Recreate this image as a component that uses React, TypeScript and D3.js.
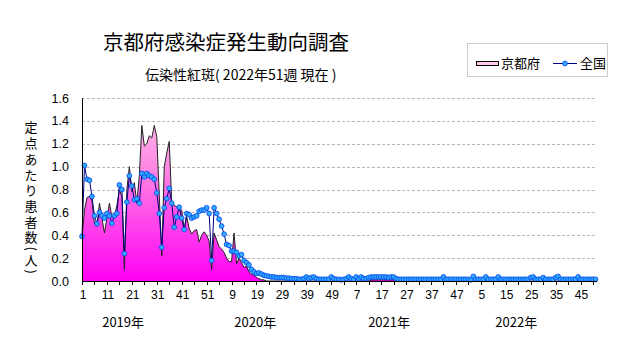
import React from 'react';
import * as d3 from 'd3';

// ---- Data (weekly per-sentinel counts) ----
const kyoto2019 = [
  0.38, 0.62, 0.73, 0.74, 0.70, 0.50, 0.48, 0.68, 0.55, 0.42,
  0.55, 0.68, 0.56, 0.56, 0.66, 0.80, 0.74, 0.10, 0.80, 1.00,
  0.78, 0.86, 0.68, 0.92, 1.36, 1.18, 1.20, 1.27, 1.25, 1.36,
  1.26, 0.75, 0.22, 1.00, 1.12, 1.22, 0.68, 0.66, 0.65, 0.62,
  0.62, 0.45, 0.56, 0.46, 0.41, 0.44, 0.45, 0.34, 0.40, 0.43,
  0.40, 0.35,
];
const kyoto2020 = [
  0.10, 0.42, 0.36, 0.30, 0.28, 0.25, 0.20, 0.17, 0.17, 0.42,
  0.15, 0.20, 0.16, 0.12, 0.13, 0.08, 0.06, 0.05, 0.03, 0.02,
  0.01, 0.01, 0, 0, 0, 0, 0, 0, 0, 0,
  0, 0, 0, 0.02, 0, 0, 0, 0, 0, 0,
  0, 0, 0, 0, 0, 0, 0, 0, 0, 0,
  0, 0,
];
const kyoto2021 = [
  0, 0, 0, 0, 0, 0, 0, 0, 0, 0,
  0, 0, 0.01, 0.01, 0.01, 0.01, 0.01, 0.01, 0.01, 0.01,
  0.01, 0.01, 0, 0, 0, 0, 0, 0, 0, 0,
  0, 0, 0, 0, 0, 0, 0, 0, 0, 0,
  0, 0, 0, 0, 0, 0, 0, 0, 0, 0,
  0, 0,
];
const kyoto2022 = [
  0, 0, 0, 0, 0, 0, 0, 0, 0, 0,
  0.02, 0, 0, 0, 0, 0, 0, 0, 0.02, 0,
  0, 0, 0, 0, 0, 0, 0, 0, 0, 0,
  0, 0, 0, 0, 0, 0, 0, 0, 0, 0,
  0, 0, 0, 0, 0, 0, 0, 0, 0, 0,
  0.03,
];

const national2019 = [
  0.39, 1.01, 0.89, 0.88, 0.74, 0.57, 0.50, 0.60, 0.57, 0.55,
  0.59, 0.57, 0.505, 0.57, 0.59, 0.84, 0.80, 0.24, 0.69, 0.92,
  0.83, 0.71, 0.72, 0.68, 0.94, 0.91, 0.94, 0.92, 0.91, 0.89,
  0.77, 0.59, 0.295, 0.64, 0.72, 0.81, 0.68, 0.47, 0.56, 0.645,
  0.55, 0.45, 0.59, 0.58, 0.55, 0.56, 0.57, 0.61, 0.62, 0.62,
  0.64, 0.59,
];
const national2020 = [
  0.18, 0.64, 0.59, 0.54, 0.48, 0.41, 0.32, 0.31, 0.26, 0.26,
  0.25, 0.22, 0.23, 0.18, 0.16, 0.14, 0.10, 0.08, 0.065, 0.07,
  0.06, 0.05, 0.045, 0.04, 0.035, 0.035, 0.03, 0.03, 0.03, 0.03,
  0.025, 0.025, 0.02, 0.02, 0.02, 0.015, 0.015, 0.02, 0.035, 0.02,
  0.03, 0.035, 0.02, 0.015, 0.015, 0.015, 0.015, 0.015, 0.035, 0.02,
  0.015, 0.015,
];
const national2021 = [
  0.01, 0.015, 0.02, 0.035, 0.02, 0.015, 0.035, 0.02, 0.035, 0.02,
  0.02, 0.03, 0.035, 0.035, 0.035, 0.035, 0.035, 0.035, 0.035, 0.03,
  0.035, 0.035, 0.02, 0.015, 0.015, 0.015, 0.015, 0.015, 0.015, 0.015,
  0.015, 0.015, 0.015, 0.015, 0.015, 0.015, 0.015, 0.015, 0.015, 0.015,
  0.015, 0.035, 0.015, 0.015, 0.015, 0.015, 0.015, 0.015, 0.015, 0.015,
  0.015, 0.015,
];
const national2022 = [
  0.01, 0.04, 0.015, 0.015, 0.015, 0.015, 0.035, 0.015, 0.015, 0.015,
  0.015, 0.035, 0.015, 0.015, 0.015, 0.015, 0.015, 0.015, 0.015, 0.015,
  0.015, 0.015, 0.015, 0.015, 0.03, 0.035, 0.015, 0.015, 0.015, 0.03,
  0.015, 0.015, 0.015, 0.015, 0.03, 0.04, 0.015, 0.015, 0.015, 0.015,
  0.015, 0.015, 0.015, 0.035, 0.015, 0.015, 0.015, 0.015, 0.015, 0.015,
  0.015,
];

const yTicks = [0, 0.2, 0.4, 0.6, 0.8, 1.0, 1.2, 1.4, 1.6];
const xTickLabels = ['1', '11', '21', '31', '41', '51', '9', '19', '29', '39', '49', '7', '17', '27', '37', '47', '5', '15', '25', '35', '45'];
const yearLabels = ['2019年', '2020年', '2021年', '2022年'];
const yearLabelIndex = [17.5, 70.5, 124.2, 175.2];

const title = '京都府感染症発生動向調査';
const subtitle = '伝染性紅斑( 2022年51週 現在 )';
const yTitle = '定点あたり患者数(人)';
const seriesNames = ['京都府', '全国'];

const kyoto = [...kyoto2019, ...kyoto2020, ...kyoto2021, ...kyoto2022];
const national = [...national2019, ...national2020, ...national2021, ...national2022];
const N = kyoto.length;

export default function App() {
  const left = 82, right = 595.5, top = 98, bottom = 281;
  const x = d3.scaleLinear().domain([1, N]).range([left, right]);
  const y = d3.scaleLinear().domain([0, 1.6]).range([bottom, top]);

  const area = d3.area<number>().x((_, i) => x(i + 1)).y0(y(0)).y1((d) => y(d));
  const line = d3.line<number>().x((_, i) => x(i + 1)).y((d) => y(d));

  const minorTicks = d3.range(1, N + 1, 5);
  const labelIdx = d3.range(1, N + 1, 10);
  const jp = '"Noto Sans CJK JP", sans-serif';
  const num = '"Liberation Sans Narrow", "Liberation Sans", sans-serif';

  return (
    <svg width={631} height={347} style={{ display: 'block', position: 'absolute', left: 0, top: 0, background: '#fff' }}>
      <defs>
        <linearGradient id="kg" gradientUnits="userSpaceOnUse" x1="0" y1={top} x2="0" y2={bottom}>
          <stop offset="0%" stopColor="#ffc8ec" />
          <stop offset="40%" stopColor="#ff84e2" />
          <stop offset="100%" stopColor="#ff00f4" />
        </linearGradient>
      </defs>
      <rect x={0} y={0} width={631} height={347} fill="#fff" />
      <text x={103} y={50} fontSize={20.5} fontFamily={jp} fill="#000">{title}</text>
      <text x={145} y={80} fontSize={14} fontFamily={jp} fill="#000">{subtitle}</text>

      {/* legend */}
      <rect x={467.5} y={43.5} width={140} height={33} fill="#fff" stroke="#999" strokeDasharray="1,1" />
      <rect x={476.5} y={61.5} width={22} height={4} fill="url(#kg)" stroke="#000" />
      <text x={501} y={68} fontSize={13} fontFamily={jp}>{seriesNames[0]}</text>
      <line x1={553} x2={577} y1={63.5} y2={63.5} stroke="#000080" />
      <circle cx={565} cy={63.5} r={2.4} fill="#33aaff" stroke="#0044ee" strokeWidth={0.8} />
      <text x={580} y={68} fontSize={13} fontFamily={jp}>{seriesNames[1]}</text>

      {/* y title */}
      <text x={31} y={121} fontSize={13} fontFamily={jp} letterSpacing={2.7} style={{ writingMode: 'vertical-rl' } as any}>{yTitle}</text>

      {/* grid */}
      {yTicks.filter((t) => t > 0).map((t) => (
        <line key={t} x1={left} x2={597} y1={Math.round(y(t)) + 0.5} y2={Math.round(y(t)) + 0.5} stroke="#c0b2c4" strokeDasharray="3,2" />
      ))}
      {yTicks.map((t) => (
        <text key={'yl' + t} x={69} y={y(t) + 4.5} fontSize={12.5} fontFamily={num} textAnchor="end">{t.toFixed(1)}</text>
      ))}

      {/* kyoto area */}
      <path d={area(kyoto) || ''} fill="url(#kg)" />
      <path d={line(kyoto) || ''} fill="none" stroke="#222" strokeWidth={1} />

      {/* national */}
      <path d={line(national) || ''} fill="none" stroke="#000080" strokeWidth={1} />
      {national.map((v, i) => (
        <circle key={i} cx={x(i + 1)} cy={y(v)} r={2.4} fill="#33aaff" stroke="#0044ee" strokeWidth={0.8} />
      ))}

      {/* axes */}
      <line x1={left + 0.5} x2={left + 0.5} y1={top} y2={bottom + 0.5} stroke="#000" />
      <line x1={left} x2={597} y1={bottom + 0.5} y2={bottom + 0.5} stroke="#000" />
      {minorTicks.map((i) => (
        <line key={'t' + i} x1={Math.round(x(i)) + 0.5} x2={Math.round(x(i)) + 0.5} y1={bottom} y2={bottom + 4} stroke="#000" />
      ))}
      {labelIdx.map((idx, k) => (
        <text key={'xl' + idx} x={x(idx) + 1} y={299} fontSize={12} fontFamily={num} textAnchor="middle">{xTickLabels[k]}</text>
      ))}
      {yearLabels.map((t, k) => (
        <text key={t} x={x(yearLabelIndex[k])} y={327} fontSize={13} fontFamily={jp} textAnchor="middle">{t}</text>
      ))}
    </svg>
  );
}
